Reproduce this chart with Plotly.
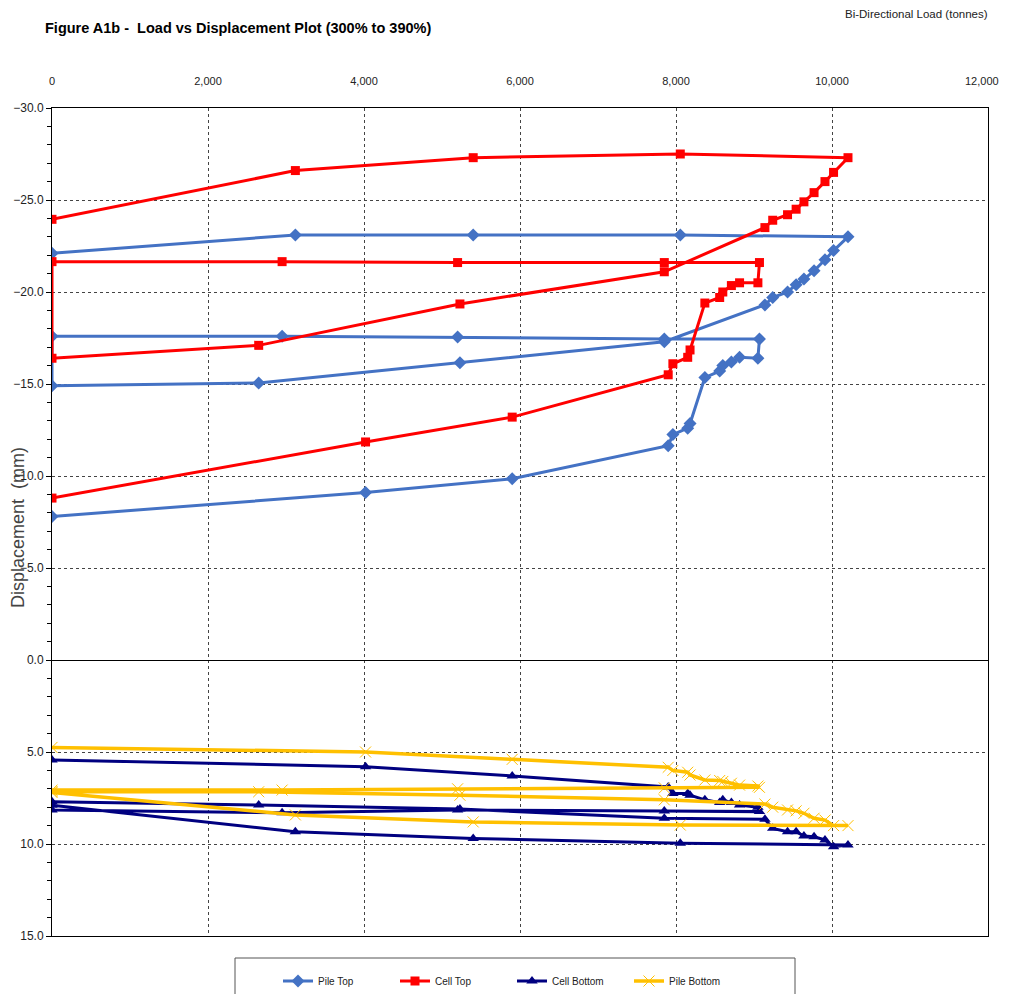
import plotly.graph_objects as go

# Bi-directional load (tonnes) – shared load sequence for all gauges
load = [0, 4020, 5900, 7900, 7960, 8150, 8180, 8370, 8560, 8600, 8710, 8815, 9050, 9070,
        7850, 5200, 2950, 0, 0, 2650, 5230, 7850, 9140, 9240, 9430, 9540, 9640, 9770,
        9910, 10020, 10205, 8055, 5400, 3120, 0]

pile_top = [-7.8, -9.1, -9.85, -11.65, -12.25, -12.6, -12.85, -15.35, -15.7, -16.0, -16.2,
            -16.45, -16.4, -17.45, -17.45, -17.55, -17.6, -17.6, -14.9, -15.05, -16.15, -17.3,
            -19.3, -19.7, -20.0, -20.4, -20.7, -21.15, -21.75, -22.25, -23.0, -23.1, -23.1,
            -23.1, -22.1]

cell_top = [-8.8, -11.85, -13.2, -15.5, -16.1, -16.45, -16.85, -19.4, -19.7, -20.0, -20.35,
            -20.5, -20.5, -21.6, -21.6, -21.6, -21.65, -21.65, -16.4, -17.1, -19.35, -21.1,
            -23.5, -23.9, -24.2, -24.5, -24.9, -25.4, -26.0, -26.5, -27.3, -27.5, -27.3,
            -26.6, -23.95]

cell_bottom = [5.43, 5.8, 6.3, 6.9, 7.25, 7.25, 7.35, 7.6, 7.75, 7.6, 7.75, 7.88, 8.0, 8.24,
               8.2, 8.15, 8.3, 8.15, 7.7, 7.88, 8.1, 8.6, 8.66, 9.15, 9.33, 9.33, 9.57, 9.6,
               9.78, 10.15, 10.05, 9.96, 9.7, 9.33, 7.9]

pile_bottom = [4.75, 5.0, 5.4, 5.83, 6.0, 6.1, 6.25, 6.52, 6.55, 6.6, 6.7, 6.8, 6.85, 6.92,
               6.95, 7.0, 7.07, 7.07, 7.15, 7.16, 7.35, 7.6, 7.83, 8.0, 8.15, 8.2, 8.33, 8.6,
               8.7, 9.0, 9.0, 8.97, 8.8, 8.42, 7.2]

x_ticks = [0, 2000, 4000, 6000, 8000, 10000]
x_tick_text = ["0", "2,000", "4,000", "6,000", "8,000", "10,000"]
x_last_tick_text = "12,000"
y_ticks = [-30, -25, -20, -15, -10, -5, 0, 5, 10, 15]

FONT = "Liberation Sans, Arial, sans-serif"

fig = go.Figure()
fig.add_trace(go.Scatter(x=load, y=pile_top, name="Pile Top", mode="lines+markers",
                         line=dict(color="#4472C4", width=3),
                         marker=dict(symbol="diamond", size=10, color="#4472C4")))
fig.add_trace(go.Scatter(x=load, y=cell_top, name="Cell Top", mode="lines+markers",
                         line=dict(color="#FF0000", width=3),
                         marker=dict(symbol="square", size=9, color="#FF0000")))
fig.add_trace(go.Scatter(x=load, y=cell_bottom, name="Cell Bottom", mode="lines+markers",
                         line=dict(color="#000080", width=3),
                         marker=dict(symbol="triangle-up", size=10, color="#000080")))
fig.add_trace(go.Scatter(x=load, y=pile_bottom, name="Pile Bottom", mode="lines+markers",
                         line=dict(color="#FFC000", width=3.5),
                         marker=dict(symbol="x-thin", size=11, color="#FFC000",
                                     line=dict(color="#FFC000", width=1))))

OFF = 8  # page body margin
W, H = 1011 - OFF, 1002 - 2 * OFF
L, T = 52 - OFF, 108 - OFF
pw, ph = 936, 828
R, B = W - L - pw, H - T - ph

def px(xp):
    return (xp - OFF - L) / pw

def py(yp):
    return (T + ph - (yp - OFF)) / ph

fig.update_layout(
    width=W, height=H,
    margin=dict(l=L, r=R, t=T, b=B, autoexpand=False),
    paper_bgcolor="white", plot_bgcolor="white",
    showlegend=True,
    legend=dict(orientation="h", x=px(278), y=py(981), xanchor="left", yanchor="middle",
                font=dict(family=FONT, size=10, color="#222"),
                entrywidth=72, entrywidthmode="pixels",
                bgcolor="rgba(0,0,0,0)", borderwidth=0),
    xaxis=dict(range=[0, 12000], side="top", tickvals=x_ticks, ticktext=x_tick_text,
               automargin=False, ticklabeloverflow="allow",
               showgrid=True, gridcolor="#444", griddash="dot", gridwidth=1,
               zeroline=False, showline=True, linecolor="black", linewidth=1, mirror=True,
               ticks="", ticklabelstandoff=18,
               tickfont=dict(family=FONT, size=11, color="#222")),
    yaxis=dict(range=[15, -30], tickvals=y_ticks, tickformat=".1f",
               automargin=False,
               showgrid=True, gridcolor="#444", griddash="dot", gridwidth=1,
               zeroline=True, zerolinecolor="black", zerolinewidth=1,
               showline=True, linecolor="black", linewidth=1, mirror=True,
               ticks="outside", ticklen=5, tickcolor="black",
               minor=dict(dtick=1, ticks="outside", ticklen=4, tickcolor="black", showgrid=False),
               tickfont=dict(family=FONT, size=12, color="#222")),
    shapes=[dict(type="rect", xref="paper", yref="paper",
                 x0=px(235), x1=px(795), y0=py(1012), y1=py(958),
                 line=dict(color="#555", width=1), fillcolor="rgba(0,0,0,0)")],
    annotations=[
        dict(text=x_last_tick_text, xref="paper", yref="paper", x=px(1001), y=py(81),
             xanchor="right", yanchor="middle", showarrow=False,
             font=dict(family=FONT, size=11, color="#222")),
        dict(text="<b>Figure A1b -  Load vs Displacement Plot (300% to 390%)</b>",
             xref="paper", yref="paper", x=px(43), y=py(28), xanchor="left", yanchor="middle",
             showarrow=False, font=dict(family=FONT, size=14.5, color="black")),
        dict(text="Bi-Directional Load (tonnes)", xref="paper", yref="paper",
             x=px(843), y=py(14), xanchor="left", yanchor="middle", showarrow=False,
             font=dict(family=FONT, size=11.5, color="#222")),
        dict(text="Displacement  (mm)", xref="paper", yref="paper", x=px(18), y=py(528),
             xanchor="center", yanchor="middle", textangle=-90, showarrow=False,
             font=dict(family=FONT, size=18, color="#444")),
    ],
)

fig.write_html("out.html")
